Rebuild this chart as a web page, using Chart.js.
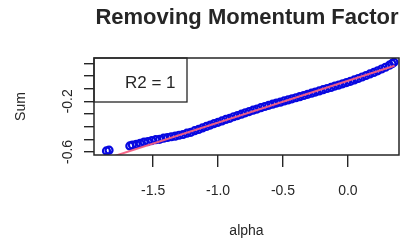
<!DOCTYPE html>
<html>
<head>
<meta charset="utf-8">
<script src="https://cdn.jsdelivr.net/npm/chart.js@4/dist/chart.umd.min.js"></script>
<style>
  html, body { margin: 0; padding: 0; background: #fff; }
  #wrap { width: 408px; height: 241px; }
</style>
</head>
<body>
<div id="wrap"><canvas id="c" width="408" height="241"></canvas></div>
<script>
// data
const alpha = [-1.86, -1.84, -1.68, -1.66, -1.63, -1.60, -1.57, -1.54, -1.51, -1.48,
  -1.45, -1.42, -1.39, -1.36, -1.33, -1.30, -1.27, -1.24, -1.21, -1.18,
  -1.15, -1.12, -1.09, -1.06, -1.03, -1.00, -0.97, -0.94, -0.91, -0.88,
  -0.85, -0.82, -0.79, -0.76, -0.73, -0.70, -0.67, -0.64, -0.61, -0.58,
  -0.55, -0.52, -0.49, -0.46, -0.43, -0.40, -0.37, -0.34, -0.31, -0.28,
  -0.25, -0.22, -0.19, -0.16, -0.13, -0.10, -0.07, -0.04, -0.01, 0.02,
  0.05, 0.08, 0.11, 0.14, 0.17, 0.20, 0.23, 0.26, 0.29, 0.32, 0.34, 0.355];
const sum = [-0.592, -0.586, -0.552, -0.545, -0.540, -0.532, -0.522, -0.518, -0.510, -0.503,
  -0.500, -0.491, -0.486, -0.480, -0.475, -0.468, -0.462, -0.452, -0.445, -0.432,
  -0.422, -0.410, -0.398, -0.388, -0.376, -0.366, -0.355, -0.343, -0.334, -0.322,
  -0.313, -0.302, -0.291, -0.281, -0.270, -0.261, -0.250, -0.241, -0.232, -0.223,
  -0.214, -0.207, -0.197, -0.189, -0.180, -0.172, -0.163, -0.154, -0.145, -0.136,
  -0.127, -0.118, -0.108, -0.099, -0.090, -0.080, -0.072, -0.062, -0.052, -0.042,
  -0.031, -0.020, -0.008, 0.004, 0.016, 0.028, 0.041, 0.055, 0.069, 0.085, 0.097, 0.108];
const fitAlpha = [-1.85, 0.36];
const fitSum = [-0.649, 0.081];
const yLabelVals = [-0.6, -0.2];
const titleText = 'Removing Momentum Factor';
const legendText = 'R2 = 1';

const pts = alpha.map((a, i) => ({ x: a, y: sum[i] }));
const fit = fitAlpha.map((a, i) => ({ x: a, y: fitSum[i] }));

const ink = '#262626';
const face = '"Liberation Sans", Arial, sans-serif';

const decor = {
  id: 'decor',
  afterDatasetsDraw(chart) {
    const ctx = chart.ctx, a = chart.chartArea, ys = chart.scales.y;
    ctx.save();
    // legend box
    ctx.fillStyle = '#fff';
    ctx.fillRect(a.left, a.top, 93, 44);
    ctx.strokeStyle = ink;
    ctx.lineWidth = 1.3;
    ctx.strokeRect(a.left, a.top, 93, 44);
    ctx.fillStyle = ink;
    ctx.font = '17px ' + face;
    ctx.textBaseline = 'middle';
    ctx.textAlign = 'left';
    ctx.fillText(legendText, a.left + 31, a.top + 25);
    // plot frame
    ctx.lineWidth = 1.5;
    ctx.strokeRect(a.left, a.top, a.right - a.left, a.bottom - a.top);
    // rotated y tick labels
    ctx.font = '14px ' + face;
    ctx.textAlign = 'center';
    yLabelVals.forEach(v => {
      const py = ys.getPixelForValue(v);
      ctx.save();
      ctx.translate(68, py);
      ctx.rotate(-Math.PI / 2);
      ctx.fillText(v.toFixed(1), 0, 0);
      ctx.restore();
    });
    // title
    ctx.font = 'bold 22px ' + face;
    ctx.fillText(titleText, 247, 18);
    ctx.restore();
  }
};

new Chart(document.getElementById('c'), {
  type: 'scatter',
  data: {
    datasets: [
      {
        data: fit,
        showLine: true,
        borderColor: 'rgba(245,95,130,0.95)',
        borderWidth: 2,
        pointRadius: 0
      },
      {
        data: pts,
        borderColor: '#0808e0',
        backgroundColor: 'rgba(0,0,0,0)',
        borderWidth: 2.2,
        pointRadius: 3.5
      }
    ]
  },
  options: {
    responsive: false,
    animation: false,
    events: [],
    layout: { padding: { top: 58, right: 9, left: 0, bottom: 0 } },
    plugins: { legend: { display: false }, tooltip: { enabled: false }, title: { display: false } },
    scales: {
      x: {
        type: 'linear',
        min: -1.956,
        max: 0.394,
        afterFit(s) { s.height = 86; },
        border: { display: false },
        grid: { drawOnChartArea: false, drawTicks: true, tickLength: 12, color: ink, lineWidth: 1.4 },
        ticks: {
          stepSize: 0.5,
          includeBounds: false,
          maxRotation: 0,
          padding: 16,
          color: ink,
          font: { size: 14, family: face },
          callback: v => v.toFixed(1)
        },
        title: {
          display: true,
          text: 'alpha',
          color: ink,
          padding: { top: 0, bottom: 1 },
          font: { size: 14, family: face }
        }
      },
      y: {
        type: 'linear',
        min: -0.624,
        max: 0.142,
        afterFit(s) { s.width = 94; },
        border: { display: false },
        grid: { drawOnChartArea: false, drawTicks: true, tickLength: 10, color: ink, lineWidth: 1.4 },
        ticks: {
          stepSize: 0.1,
          includeBounds: false,
          display: false
        },
        title: {
          display: true,
          text: 'Sum',
          color: ink,
          padding: { top: 13, bottom: 0 },
          font: { size: 14, family: face }
        }
      }
    }
  },
  plugins: [decor]
});
</script>
</body>
</html>
